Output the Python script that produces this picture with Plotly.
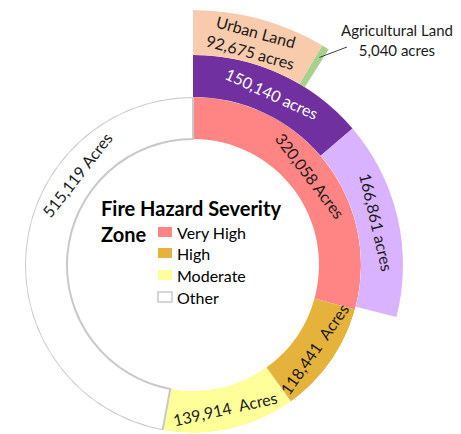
import numpy as np
import plotly.graph_objects as go

# ---------------- data ----------------
zones = ["Very High", "High", "Moderate", "Other"]
zone_acres = [320058, 118441, 139914, 515119]
zone_text = ["320,058 Acres", "118,441\u00a0 Acres", "139,914\u00a0 Acres", "515,119 Acres"]

vh_split = ["Very High (part 1)", "Very High (part 2)"]
vh_split_acres = [150140, 166861]
vh_split_text = ["150,140 acres", "166,861 acres"]

land_use = ["Urban Land", "Agricultural Land"]
land_use_acres = [92675, 5040]
land_use_text = ["Urban Land<br>92,675 acres", "Agricultural Land<br>5,040 acres"]

# ---------------- styles ----------------
zone_colors = ["#FF8585", "#E5B33C", "#FFFF99", "#FFFFFF"]
zone_line_colors = ["#FF8585", "#E5B33C", "#FFFF99", "#C9C9C9"]
zone_line_widths = [0, 0, 0, 2]
split_colors = ["#7030A0", "#D9B3FF"]
land_colors = ["#F8CBAD", "#A9D18E"]
FONT = "Lato"
TXT = "#1A1A1A"
LBL = 16

TOTAL = float(sum(zone_acres))


def arcs(values):
    w = np.array(values, float) / TOTAL * 360.0
    c = np.cumsum(w) - w / 2.0
    return c, w


zc, zw = arcs(zone_acres)
sc, sw = arcs(vh_split_acres)
lc, lw = arcs(land_use_acres)

OFF = 8  # page body margin
R0, R1, R2, R3 = 126, 168, 210, 255
CX, CY = 193 - OFF, 265 - OFF  # centre in figure pixels
W, H = 461, 434

fig = go.Figure()

fig.add_trace(go.Barpolar(
    theta=zc, width=zw, r=[R1 - R0] * 4, base=[R0] * 4,
    marker=dict(color=zone_colors,
                line=dict(color=zone_line_colors, width=zone_line_widths)),
    subplot="polar", hoverinfo="skip", name="zones"))

fig.add_trace(go.Barpolar(
    theta=sc, width=sw, r=[R2 - R1] * 2, base=[R1] * 2,
    marker=dict(color=split_colors, line=dict(width=0)),
    subplot="polar2", hoverinfo="skip", name="split"))

fig.add_trace(go.Barpolar(
    theta=lc, width=lw, r=[R3 - R2] * 2, base=[R2] * 2,
    marker=dict(color=land_colors, line=dict(width=0)),
    subplot="polar2", hoverinfo="skip", name="land"))

fig.add_trace(go.Scatter(x=[0], y=[0], mode="markers",
                         marker=dict(size=1, opacity=0), hoverinfo="skip",
                         showlegend=False))


def pos(theta, r):
    t = np.deg2rad(theta)
    return r * np.sin(t), r * np.cos(t)


def tangent_angle(theta):
    theta = theta % 360
    if 90 < theta < 270:
        theta -= 180
    if theta > 180:
        theta -= 360
    return theta


def px(xp, yp):
    """reference-image pixel -> data coords"""
    return xp - OFF - CX, CY - (yp - OFF)


annotations = []


def label(theta, r, text, color=TXT, size=LBL):
    x, y = pos(theta, r)
    annotations.append(dict(x=x, y=y, xref="x", yref="y", text=text,
                            showarrow=False, textangle=tangent_angle(theta),
                            font=dict(family=FONT, size=size, color=color),
                            xanchor="center", yanchor="middle"))


zone_label_theta = list(zc)
zone_label_theta[3] = 308
for t, txt in zip(zone_label_theta, zone_text):
    label(t, (R0 + R1) / 2, txt)

label(sc[0], (R1 + R2) / 2, vh_split_text[0], color="white")
label(sc[1], (R1 + R2) / 2, vh_split_text[1])
label(lc[0], (R2 + R3) / 2 - 1, land_use_text[0])

ax0, ay0 = pos(lc[1], 243)
tx, ty = px(397, 40)
annotations.append(dict(x=tx, y=ty, xref="x", yref="y", text=land_use_text[1],
                        showarrow=False, font=dict(family=FONT, size=15, color=TXT),
                        xanchor="center", yanchor="middle"))
lx, ly = px(347, 47)
shapes = [dict(type="line", xref="x", yref="y", x0=ax0, y0=ay0, x1=lx, y1=ly,
               line=dict(color="#404040", width=1))]

# centre legend
for txt, yy in [("<b>Fire Hazard Severity</b>", 208), ("<b>Zone</b>", 234)]:
    x, y = px(99, yy)
    annotations.append(dict(x=x, y=y, xref="x", yref="y", text=txt,
                            showarrow=False, xanchor="left", yanchor="middle",
                            font=dict(family=FONT, size=20, color="black")))
leg_y = [232, 253, 275, 297]
for name, col, lcol, yy in zip(zones, zone_colors, zone_line_colors, leg_y):
    x0, y0 = px(158, yy - 5)
    x1, y1 = px(172, yy + 5)
    shapes.append(dict(type="rect", xref="x", yref="y", x0=x0, x1=x1, y0=y0, y1=y1,
                       fillcolor=col,
                       line=dict(color=lcol if name == "Other" else col,
                                 width=1.5 if name == "Other" else 0)))
    x, y = px(175, yy)
    annotations.append(dict(x=x, y=y, xref="x", yref="y", text=name,
                            showarrow=False, xanchor="left", yanchor="middle",
                            font=dict(family=FONT, size=16, color="black")))

d1x = [(CX - R1) / W, (CX + R1) / W]
d1y = [1 - (CY + R1) / H, 1 - (CY - R1) / H]
SEC = [-16, 90]
ybot = np.sin(np.deg2rad(-SEC[0])) * R3
d2x = [CX / W, (CX + R3) / W]
d2y = [1 - (CY + ybot) / H, 1 - (CY - R3) / H]

hidden_radial = dict(visible=False, showgrid=False, showline=False, showticklabels=False, ticks="")
hidden_ang = dict(visible=False, showgrid=False, showline=False, showticklabels=False,
                  ticks="", rotation=90, direction="clockwise")

fig.update_layout(
    width=W, height=H, margin=dict(l=0, r=0, t=0, b=0),
    paper_bgcolor="white", plot_bgcolor="rgba(0,0,0,0)",
    showlegend=False,
    polar=dict(domain=dict(x=d1x, y=d1y), bgcolor="rgba(0,0,0,0)",
               radialaxis=dict(range=[0, R1], **hidden_radial),
               angularaxis=hidden_ang, bargap=0),
    polar2=dict(domain=dict(x=d2x, y=d2y), bgcolor="rgba(0,0,0,0)", sector=SEC,
                radialaxis=dict(range=[0, R3], **hidden_radial),
                angularaxis=hidden_ang, bargap=0),
    xaxis=dict(domain=[0, 1], range=[-CX, W - CX], visible=False, fixedrange=True),
    yaxis=dict(domain=[0, 1], range=[CY - H, CY], visible=False, fixedrange=True),
    annotations=annotations, shapes=shapes,
)

fig.write_html("out.html")
